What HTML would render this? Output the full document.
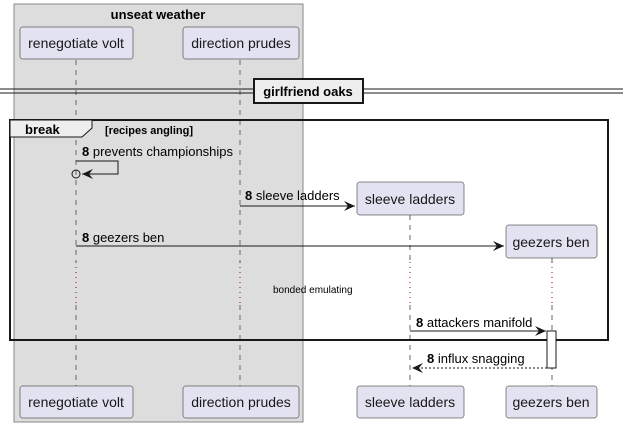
<!DOCTYPE html>
<html><head><style>body{margin:0;background:#fff}svg{display:block}text{font-family:"Liberation Sans",sans-serif}</style></head><body>
<svg width="623" height="427" xmlns="http://www.w3.org/2000/svg">
<defs><marker id="a" markerWidth="12" markerHeight="10" refX="11" refY="5" orient="auto" markerUnits="userSpaceOnUse"><path d="M0,0 L11,5 L0,10 L4,5 Z" fill="#181818"/></marker></defs>
<rect x="14" y="4" width="289" height="418" fill="#DDDDDD" stroke="#888" stroke-width="1"/>
<text x="158" y="19" font-size="13" font-weight="bold" text-anchor="middle">unseat weather</text>
<g stroke="#666" stroke-dasharray="5,5" stroke-width="1">
<line x1="76" y1="60" x2="76" y2="262"/><line x1="76" y1="305" x2="76" y2="386"/>
<line x1="240" y1="60" x2="240" y2="262"/><line x1="240" y1="305" x2="240" y2="386"/>
<line x1="410" y1="215" x2="410" y2="262"/><line x1="410" y1="305" x2="410" y2="386"/>
<line x1="552" y1="258" x2="552" y2="262"/><line x1="552" y1="305" x2="552" y2="386"/>
</g>
<g stroke="#A80036" stroke-dasharray="1,4" stroke-width="1">
<line x1="76" y1="262" x2="76" y2="305"/><line x1="240" y1="262" x2="240" y2="305"/><line x1="410" y1="262" x2="410" y2="305"/><line x1="552" y1="262" x2="552" y2="305"/>
</g>
<g fill="#E2E2F0" stroke="#181818" stroke-width="0.5">
<rect x="20" y="27" width="113" height="32" rx="2.5"/><rect x="183" y="27" width="116" height="32" rx="2.5"/>
<rect x="20" y="386" width="113" height="32" rx="2.5"/><rect x="183" y="386" width="116" height="32" rx="2.5"/>
<rect x="357" y="182" width="107" height="33" rx="2.5"/><rect x="357" y="386" width="107" height="32" rx="2.5"/>
<rect x="506" y="225" width="91" height="33" rx="2.5"/><rect x="506" y="386" width="91" height="32" rx="2.5"/>
</g>
<g font-size="14" text-anchor="middle" fill="#181818">
<text x="76" y="48">renegotiate volt</text><text x="241" y="48">direction prudes</text>
<text x="76" y="407">renegotiate volt</text><text x="241" y="407">direction prudes</text>
<text x="410" y="204">sleeve ladders</text><text x="410" y="407">sleeve ladders</text>
<text x="551" y="247">geezers ben</text><text x="551" y="407">geezers ben</text>
</g>
<g stroke="#181818" stroke-width="1"><line x1="0" y1="89" x2="623" y2="89"/><line x1="0" y1="93" x2="623" y2="93"/></g>
<rect x="254" y="79" width="109" height="24" fill="#EEEEEE" stroke="#181818" stroke-width="2"/>
<text x="308" y="96" font-size="13" font-weight="bold" text-anchor="middle">girlfriend oaks</text>
<rect x="10" y="120" width="598" height="220" fill="none" stroke="#181818" stroke-width="2"/>
<path d="M10,120 L92,120 L92,128 L82,137 L10,137 Z" fill="#EEEEEE" stroke="#181818" stroke-width="1"/>
<text x="25" y="134" font-size="13" font-weight="bold">break</text>
<text x="105" y="134" font-size="11" font-weight="bold">[recipes angling]</text>
<path d="M76,161 L118,161 L118,174 L82,174" fill="none" stroke="#181818" marker-end="url(#a)"/>
<circle cx="76" cy="174" r="4" fill="none" stroke="#181818"/>
<text x="82" y="156" font-size="13"><tspan font-weight="bold">8</tspan> prevents championships</text>
<line x1="240" y1="206" x2="355" y2="206" stroke="#181818" marker-end="url(#a)"/>
<text x="245" y="200" font-size="13"><tspan font-weight="bold">8</tspan> sleeve ladders</text>
<line x1="76" y1="246" x2="504" y2="246" stroke="#181818" marker-end="url(#a)"/>
<text x="82" y="242" font-size="13"><tspan font-weight="bold">8</tspan> geezers ben</text>
<text x="273" y="293" font-size="10">bonded emulating</text>
<line x1="410" y1="331" x2="546" y2="331" stroke="#181818" marker-end="url(#a)"/>
<text x="416" y="327" font-size="13"><tspan font-weight="bold">8</tspan> attackers manifold</text>
<rect x="547" y="331" width="9" height="37" fill="#fff" stroke="#181818"/>
<line x1="547" y1="368" x2="412" y2="368" stroke="#181818" stroke-dasharray="2,2" marker-end="url(#a)"/>
<text x="427" y="363" font-size="13"><tspan font-weight="bold">8</tspan> influx snagging</text>
</svg>
</body></html>
